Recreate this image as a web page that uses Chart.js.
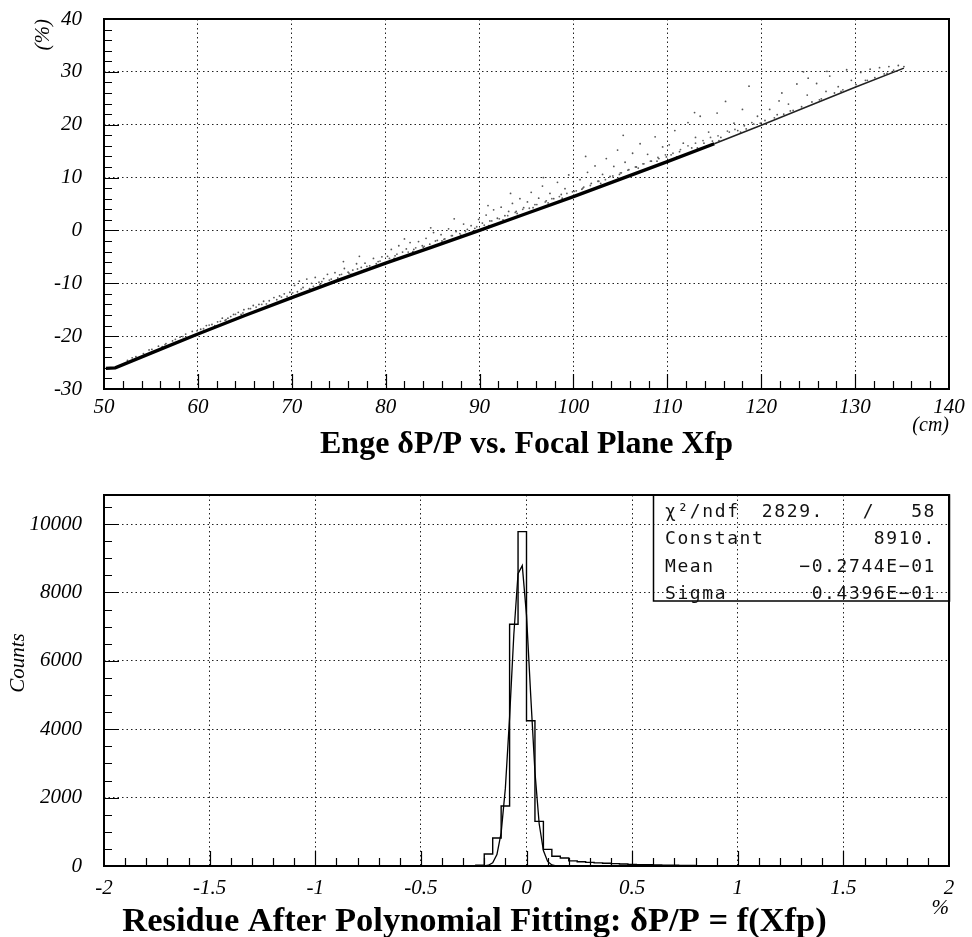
<!DOCTYPE html>
<html><head><meta charset="utf-8">
<script src="https://cdn.jsdelivr.net/npm/chart.js@4.4.0/dist/chart.umd.min.js"></script>
<style>
html,body{margin:0;padding:0;background:#fff;}
#wrap{position:relative;width:972px;height:937px;overflow:hidden;}
#c1{position:absolute;left:0;top:0;}
#c2{position:absolute;left:0;top:465px;}
</style></head><body>
<div id="wrap">
<canvas id="c1" width="972" height="465"></canvas>
<canvas id="c2" width="972" height="472"></canvas>
</div>
<script>
// ---------- Top panel data ----------
const topXTicks = [50,60,70,80,90,100,110,120,130,140];
const topYTicks = [-30,-20,-10,0,10,20,30,40];
// dense main band (read along the band centre)
const bandX = [50.2,51.2,55,60,65,70,75,80,85,90,95,100,105,110,115];
const bandY = [-26.1,-26.0,-23.2,-19.6,-16.1,-12.7,-9.4,-6.2,-3.1,0,3.2,6.4,9.7,13.0,16.4];
// thinner upper end of the band
const tailX = [115,120,125,130,135.2];
const tailY = [16.4,19.9,23.5,27.1,30.7];
// scattered events above the band
const spreadPoints = [
[52.5,-24.6],[53.4,-23.9],[54.2,-23.3],[55.1,-22.5],[55.8,-21.9],[56.6,-21.4],[57.3,-20.9],[58.1,-20.2],[58.7,-19.6],[59.4,-19.1],[56.2,-22.0],[54.8,-22.6],[53.0,-24.1],
[60.3,-18.7],[60.9,-18.0],[61.5,-17.8],[62.1,-17.3],[62.6,-16.6],[63.2,-16.6],[63.8,-15.9],[64.3,-15.5],[64.9,-15.0],[65.4,-14.8],[65.9,-14.2],[66.5,-14.0],[67.0,-13.4],[67.6,-13.3],[68.1,-12.7],[68.7,-12.4],[69.2,-12.0],[69.8,-11.7],[61.8,-18.0],[63.5,-16.3],[66.2,-14.5],[68.4,-13.1],[64.6,-15.9],[62.9,-17.0],
[70.3,-10.4],[70.8,-9.6],[71.2,-10.8],[71.6,-9.2],[72.1,-10.0],[72.5,-8.9],[72.9,-9.8],[73.4,-9.1],[73.8,-8.3],[74.2,-9.2],[74.6,-8.0],[75.1,-8.4],[75.6,-7.2],[76.0,-7.9],[76.5,-7.5],[76.9,-6.3],[77.4,-7.0],[77.8,-6.2],[78.3,-6.7],[78.7,-5.3],[79.2,-5.9],[79.6,-5.0],[70.6,-11.6],[71.9,-11.0],[73.0,-10.2],[74.9,-9.0],[76.3,-8.3],[77.7,-7.5],[79.0,-6.3],[75.5,-5.9],[77.2,-4.9],
[80.2,-4.9],[80.6,-3.6],[81.0,-4.8],[81.4,-2.9],[81.8,-4.1],[82.2,-3.5],[82.6,-2.3],[83.0,-3.6],[83.5,-2.1],[83.9,-2.9],[84.3,-1.5],[84.7,-2.6],[85.1,-0.4],[85.5,-1.9],[85.9,-0.8],[86.3,-1.6],[86.7,0.3],[87.1,-1.0],[87.5,-0.2],[87.9,-0.6],[88.3,1.2],[88.7,0.2],[89.1,0.9],[89.5,0.4],[89.9,2.1],[80.9,-5.3],[82.9,-4.0],[84.0,-3.2],[86.0,-2.0],[88.0,-0.9],[89.3,-0.2],[84.8,0.5],[87.3,2.2],[82.0,-1.6],
[90.3,1.4],[90.7,2.9],[91.1,1.8],[91.5,3.9],[91.9,2.3],[92.3,4.4],[92.7,2.8],[93.1,3.6],[93.5,5.1],[93.9,3.6],[94.3,6.0],[94.7,4.3],[95.1,5.4],[95.5,7.2],[95.9,4.9],[96.3,6.1],[96.7,8.4],[97.1,5.6],[97.5,7.0],[97.9,6.0],[98.3,9.1],[98.7,6.8],[99.1,7.9],[99.5,10.5],[99.9,7.3],[91.0,0.9],[92.5,2.0],[94.0,3.2],[95.7,4.3],[97.3,5.2],[98.8,6.1],[93.3,7.0],[96.8,10.0],[90.9,4.7],
[100.3,7.5],[100.7,9.6],[101.1,8.2],[101.5,11.0],[101.9,8.9],[102.3,12.2],[102.7,9.3],[103.1,10.6],[103.5,13.6],[103.9,10.2],[104.3,12.1],[104.7,15.2],[105.1,10.9],[105.5,12.9],[105.9,11.5],[106.3,14.6],[106.7,12.0],[107.1,16.4],[107.5,12.6],[107.9,14.4],[108.3,13.1],[108.7,17.7],[109.1,13.6],[109.5,15.8],[109.9,13.9],[100.9,7.8],[102.9,8.9],[104.9,10.6],[106.9,11.8],[108.9,13.1],[101.3,14.0],[105.3,18.0],
[110.4,14.3],[110.8,18.9],[111.3,14.9],[111.7,16.5],[112.2,20.4],[112.6,15.6],[113.0,17.6],[113.5,21.6],[113.9,16.5],[114.4,18.6],[114.8,16.9],[115.3,22.2],[115.7,17.6],[116.2,24.4],[116.6,18.6],[117.1,20.3],[117.5,18.9],[118.0,22.9],[118.4,19.2],[118.7,27.3],[119.2,20.1],[119.6,21.6],[111.0,13.9],[113.2,15.6],[115.5,17.0],[117.8,18.6],[119.9,20.3],[112.9,22.3],[110.2,16.2],
[120.4,20.8],[120.9,22.9],[121.4,21.3],[121.9,24.5],[122.4,22.0],[122.9,23.9],[123.4,22.7],[123.8,27.7],[124.3,23.4],[124.5,30.0],[124.9,25.6],[125.4,24.3],[125.9,27.8],[126.4,24.9],[126.9,26.3],[127.3,29.2],[127.8,26.0],[128.2,27.2],[128.7,26.6],[129.1,30.4],[129.6,28.4],[130.1,27.6],[130.6,29.9],[131.1,28.4],[131.6,30.5],[132.1,28.9],[132.6,30.8],[133.1,29.6],[133.6,31.0],[134.1,30.3],[134.6,31.2],[135.2,31.0],[121.7,21.9],[123.1,22.6],[126.2,24.7],[128.5,26.3],[131.3,28.4],[133.4,29.7],[122.2,26.0],[125.0,28.8],[127.0,30.1]
];
// fuzzy halo hugging the upper edge of the band
const haloPoints = [
[56.5,-21.6],[57.6,-20.6],[58.4,-20.1],[59.9,-19.0],[60.6,-18.6],[61.2,-17.9],[62.4,-17.2],[63.0,-16.9],[64.0,-15.9],[64.8,-15.6],[65.6,-14.8],[66.8,-14.0],[67.3,-13.9],[68.9,-12.6],[69.5,-12.5],
[70.1,-11.8],[71.0,-11.1],[72.3,-10.6],[73.2,-9.7],[74.0,-9.4],[75.3,-8.3],[76.1,-8.1],[77.0,-7.3],[78.0,-6.8],[79.4,-5.8],[80.4,-5.3],[81.2,-4.5],[82.4,-4.1],[83.2,-3.3],[84.1,-3.0],
[85.3,-2.0],[86.2,-1.7],[87.0,-1.0],[88.5,-0.2],[89.7,0.7],[90.5,1.0],[91.3,1.8],[92.1,2.2],[93.0,2.8],[93.8,3.4],[94.6,4.0],[95.3,4.2],[96.1,4.9],[97.0,5.4],[97.7,6.0],
[98.5,6.4],[99.3,7.0],[100.1,7.4],[101.0,8.0],[101.8,8.5],[102.6,9.3],[103.4,9.6],[104.2,10.3],[105.0,10.9],[105.8,11.4],[106.6,12.0],[107.4,12.6],[108.2,13.1],[109.0,13.8],[109.8,14.3],
[110.6,14.6],[111.4,15.3],[112.2,16.0],[113.0,16.5],[113.8,17.0],[114.6,17.6],[115.4,17.9],[116.4,18.8],[117.2,19.1],[118.2,19.8],[119.0,20.4]
];

// ---------- Bottom panel data ----------
const botXTicks = [-2,-1.5,-1,-0.5,0,0.5,1,1.5,2];
const botYTicks = [0,2000,4000,6000,8000,10000];
const histLow = -2, histBinWidth = 0.04;
const binCounts = [
 0,0,0,0,0,0,0,0,0,0, 0,0,0,0,0,0,0,0,0,0,
 0,0,0,0,0,0,0,0,0,0, 0,0,0,0,0,0,0,0,0,0,
 0,0,0,5,25,350,820,1755,7070,9780,
 4250,1305,487,283,235,150,125,105,90,80,
 68,58,48,40,35,30,25,22,18,15,
 12,10,9,8,7,6,5,5,4,4,
 3,3,3,2,2,2,1,1,1,0,
 0,0,0,0,0,0,0,0,0,0
];
const fitX = [-0.24,-0.22,-0.20,-0.18,-0.16,-0.14,-0.12,-0.10,-0.08,-0.06,-0.04,-0.02,0.00,0.02,0.04,0.06,0.08,0.10,0.12,0.14,0.16];
const fitY = [0,0.6,4,22,94,335,969,2277,4355,6768,8552,8785,7337,4983,2750,1235,451,134,32,6,1];
const fitStats = [
  ["χ²/ndf","2829.","/","58"],
  ["Constant","8910."],
  ["Mean","−0.2744E−01"],
  ["Sigma","0.4396E−01"]
];

// ---------- plugins ----------
const frameTicks = {
  id:'frameTicks',
  afterDraw(chart, args, o){
    const {ctx, chartArea:a, scales:{x,y}} = chart;
    ctx.save();
    ctx.strokeStyle='#000'; ctx.lineWidth=1.2;
    ctx.beginPath();
    const nx = Math.round((o.xMax-o.xMin)/o.xMinor);
    for(let i=1;i<nx;i++){
      const px = Math.round(x.getPixelForValue(o.xMin+i*o.xMinor))+0.5;
      const len = (i%o.xMajorEvery===0)?15:8;
      ctx.moveTo(px,a.bottom); ctx.lineTo(px,a.bottom-len);
    }
    const ny = Math.floor((o.yMax-o.yMin)/o.yMinor+1e-6);
    for(let i=1;i<=ny;i++){
      const py = Math.round(y.getPixelForValue(o.yMin+i*o.yMinor))+0.5;
      if (py<=a.top+1) continue;
      const len = (i%o.yMajorEvery===0)?15:8;
      ctx.moveTo(a.left,py); ctx.lineTo(a.left+len,py);
    }
    ctx.stroke();
    ctx.lineWidth=2;
    ctx.strokeRect(a.left,a.top,a.right-a.left,a.bottom-a.top);
    if (o.yTitle){
      ctx.fillStyle='#000';
      ctx.font='italic 21px "Liberation Serif"';
      ctx.textAlign='center'; ctx.textBaseline='middle';
      ctx.translate(o.yTitle.x, a.top+o.yTitle.dy);
      ctx.rotate(-Math.PI/2);
      ctx.fillText(o.yTitle.text,0,0);
    }
    ctx.restore();
  }
};
const statsBox = {
  id:'statsBox',
  afterDraw(chart){
    const {ctx, chartArea:a} = chart;
    const left = a.right-296, top = a.top, h = 106;
    ctx.save();
    ctx.strokeStyle='#000'; ctx.lineWidth=1.5;
    ctx.strokeRect(left+0.5, top, a.right-left, h);
    ctx.fillStyle='#111';
    ctx.font='18px "DejaVu Sans Mono"';
    ctx.letterSpacing='1.6px';
    ctx.textBaseline='middle';
    const rows=[17,44.5,72,99.5];
    fitStats.forEach((r,i)=>{
      const yy = top+rows[i];
      ctx.textAlign='left'; ctx.fillText(r[0], left+12, yy);
      if(r.length===4){
        ctx.textAlign='right'; ctx.fillText(r[1], a.right-125, yy);
        ctx.textAlign='center'; ctx.fillText(r[2], a.right-80, yy);
        ctx.textAlign='right'; ctx.fillText(r[3], a.right-13, yy);
      } else {
        ctx.textAlign='right'; ctx.fillText(r[1], a.right-13, yy);
      }
    });
    ctx.restore();
  }
};

const tickFont = {family:'Liberation Serif', size:21, style:'italic'};
const gridOpts = {color:'#222', lineWidth:1, drawTicks:false};
const borderOpts = {display:false, dash:[1.5,3]};
const fitY0 = s=>{s.width=104; s.paddingTop=0; s.paddingBottom=0;};
const fitX0 = h=>(s=>{s.height=h; s.paddingLeft=0; s.paddingRight=0;});

// ---------- top chart ----------
new Chart(document.getElementById('c1'), {
  type:'scatter',
  data:{datasets:[
    {data:bandX.map((v,i)=>({x:v,y:bandY[i]})), showLine:true, borderColor:'#000', borderWidth:3.4, pointRadius:0, tension:0},
    {data:tailX.map((v,i)=>({x:v,y:tailY[i]})), showLine:true, borderColor:'#222', borderWidth:1.5, pointRadius:0, tension:0},
    {data:haloPoints.map(p=>({x:p[0],y:p[1]})), pointRadius:0.9, backgroundColor:'#666', borderWidth:0},
    {data:spreadPoints.map(p=>({x:p[0],y:p[1]})), pointRadius:0.9, backgroundColor:'#555', borderWidth:0}
  ]},
  options:{
    responsive:false, animation:false, devicePixelRatio:1,
    layout:{padding:{top:19,right:23,left:0,bottom:0}},
    plugins:{
      legend:{display:false}, tooltip:{enabled:false},
      title:{display:true, position:'bottom', fullSize:false, text:'Enge δP/P vs. Focal Plane Xfp', color:'#000', font:{family:'Liberation Serif', size:32, weight:'bold', lineHeight:1.1}, padding:{top:0,bottom:2.4}},
      frameTicks:{xMin:50,xMax:140,xMinor:2,xMajorEvery:5,yMin:-30,yMax:40,yMinor:2,yMajorEvery:5}
    },
    scales:{
      x:{type:'linear', min:50, max:140,
        afterBuildTicks:s=>{s.ticks=topXTicks.map(v=>({value:v}));},
        afterFit:fitX0(38.4),
        ticks:{font:tickFont, color:'#000', padding:6, maxRotation:0, callback:v=>String(v)},
        grid:gridOpts, border:borderOpts,
        title:{display:true, text:'(cm)', align:'end', color:'#000', font:{family:'Liberation Serif', size:20, style:'italic', lineHeight:1.2}, padding:{top:0,bottom:-10}}
      },
      y:{type:'linear', min:-30, max:40,
        afterBuildTicks:s=>{s.ticks=topYTicks.map(v=>({value:v}));},
        afterFit:fitY0,
        ticks:{font:tickFont, color:'#000', padding:22, callback:v=>String(v)},
        grid:gridOpts, border:borderOpts,
        title:{display:true, text:'(%)', align:'end', color:'#000', font:{family:'Liberation Serif', size:21, style:'italic', lineHeight:1.2}, padding:{top:31,bottom:0}}
      }
    }
  },
  plugins:[frameTicks]
});

// ---------- bottom chart ----------
const histPoints = binCounts.map((c,i)=>({x:histLow+i*histBinWidth, y:c}));
histPoints.push({x:histLow+binCounts.length*histBinWidth, y:binCounts[binCounts.length-1]});

new Chart(document.getElementById('c2'), {
  type:'scatter',
  data:{datasets:[
    {data:fitX.map((v,i)=>({x:v,y:fitY[i]})), showLine:true, borderColor:'#000', borderWidth:1.3, pointRadius:0, tension:0},
    {data:histPoints, showLine:true, stepped:true, borderColor:'#000', borderWidth:1.4, pointRadius:0}
  ]},
  options:{
    responsive:false, animation:false, devicePixelRatio:1,
    layout:{padding:{top:30,right:23,left:0,bottom:0}},
    plugins:{
      legend:{display:false}, tooltip:{enabled:false},
      title:{display:true, position:'bottom', text:'Residue After Polynomial Fitting: δP/P = f(Xfp)', color:'#000', font:{family:'Liberation Serif', size:34.5, weight:'bold', lineHeight:1.1}, padding:{top:0,bottom:-3.98}},
      frameTicks:{xMin:-2,xMax:2,xMinor:0.1,xMajorEvery:5,yMin:0,yMax:10850,yMinor:500,yMajorEvery:4, yTitle:{text:'Counts', x:18, dy:168}}
    },
    scales:{
      x:{type:'linear', min:-2, max:2,
        afterBuildTicks:s=>{s.ticks=botXTicks.map(v=>({value:v}));},
        afterFit:fitX0(37.03),
        ticks:{font:tickFont, color:'#000', padding:10, maxRotation:0, callback:v=>String(v)},
        grid:gridOpts, border:borderOpts,
        title:{display:true, text:'%', align:'end', color:'#000', font:{family:'Liberation Serif', size:21, style:'italic', lineHeight:1.2}, padding:{top:0,bottom:-17.75}}
      },
      y:{type:'linear', min:0, max:10850,
        afterBuildTicks:s=>{s.ticks=botYTicks.map(v=>({value:v}));},
        afterFit:fitY0,
        ticks:{font:tickFont, color:'#000', padding:22, callback:v=>String(v)},
        grid:gridOpts, border:borderOpts
      }
    }
  },
  plugins:[frameTicks, statsBox]
});
</script>
</body></html>
